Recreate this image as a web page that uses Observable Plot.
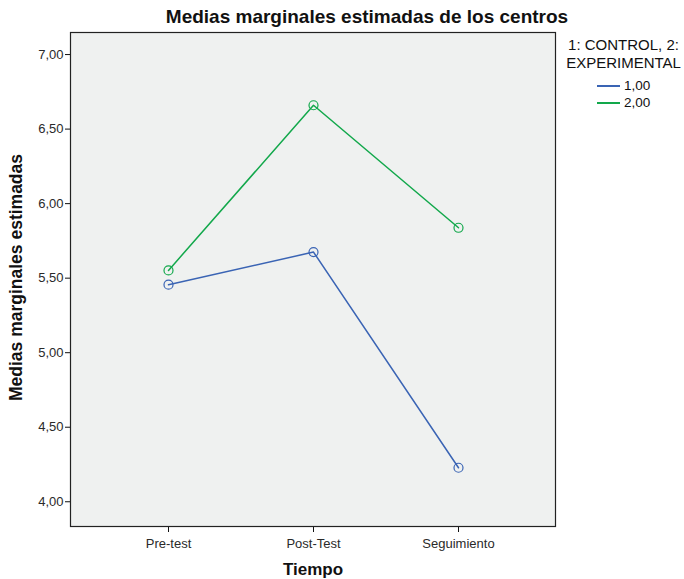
<!DOCTYPE html>
<html>
<head>
<meta charset="utf-8">
<script src="https://cdn.jsdelivr.net/npm/d3@7"></script>
<script src="https://cdn.jsdelivr.net/npm/@observablehq/plot@0.6"></script>
<style>
  body { margin: 0; background: #fff; font-family: "Liberation Sans", Arial, sans-serif; }
  #wrap { position: relative; width: 684px; height: 579px; }
  .leg { position: absolute; font-size: 15px; color: #111; }
</style>
</head>
<body>
<div id="wrap"></div>
<script>
const times = ["Pre-test", "Post-Test", "Seguimiento"];
const control = [5.456, 5.675, 4.228];
const experimental = [5.552, 6.66, 5.838];
const groups = ["1,00", "2,00"];
const colors = ["#3a64b4", "#12a84b"];
const yTicks = [4, 4.5, 5, 5.5, 6, 6.5, 7];
const title = "Medias marginales estimadas de los centros";
const yLabel = "Medias marginales estimadas";
const xLabel = "Tiempo";
const legendTitle = ["1: CONTROL, 2:", "EXPERIMENTAL"];

const rows = [];
times.forEach((t, i) => {
  rows.push({time: t, value: control[i], group: groups[0]});
  rows.push({time: t, value: experimental[i], group: groups[1]});
});

const fmt = d => d.toFixed(2).replace(".", ",");

const chart = Plot.plot({
  width: 684,
  height: 579,
  marginTop: 32,
  marginLeft: 70,
  marginRight: 129,
  marginBottom: 53,
  style: {fontFamily: "'Liberation Sans', Arial, sans-serif", fontSize: "13px", color: "#2a2a2a", background: "#fff"},
  x: {type: "point", domain: times, padding: 0.667},
  y: {domain: [3.834, 7.148]},
  color: {domain: groups, range: colors},
  marks: [
    Plot.frame({fill: "#eff1f0"}),
    Plot.axisY({ticks: yTicks, tickFormat: fmt, tickSize: 5, tickPadding: 2, label: null, fontSize: 13, stroke: "#111"}),
    Plot.axisX({tickSize: 6, tickPadding: 6, label: null, fontSize: 13, stroke: "#111"}),
    Plot.line(rows, {x: "time", y: "value", z: "group", stroke: "group", strokeWidth: 1.5}),
    Plot.dot(rows, {x: "time", y: "value", stroke: "group", r: 4.5, strokeWidth: 1.2, fill: "none"}),
    Plot.frame({stroke: "#222", strokeWidth: 1.2}),
    Plot.text([title], {frameAnchor: "top", dx: 54, dy: -16, text: d => d, fontSize: 19, fontWeight: "bold", fill: "#111", lineAnchor: "middle", textAnchor: "middle"}),
    Plot.text([yLabel], {frameAnchor: "left", dx: -54, dy: -2, text: d => d, rotate: -90, fontSize: 17.5, fontWeight: "bold", fill: "#111", textAnchor: "middle", lineAnchor: "middle"}),
    Plot.text([xLabel], {frameAnchor: "bottom", dy: 43, text: d => d, fontSize: 17, fontWeight: "bold", fill: "#111", lineAnchor: "middle", textAnchor: "middle", style: "letter-spacing:1px"})
  ]
});

const wrap = document.getElementById("wrap");
wrap.appendChild(chart);

// Legend
const t1 = document.createElement("div");
t1.className = "leg";
t1.style.left = "563px"; t1.style.top = "36px"; t1.style.width = "121px"; t1.style.textAlign = "center"; t1.style.lineHeight = "18px";
t1.innerHTML = legendTitle.join("<br>");
wrap.appendChild(t1);

groups.forEach((g, i) => {
  const item = document.createElement("div");
  item.className = "leg";
  item.style.left = "597px";
  item.style.top = (78 + i * 17) + "px";
  item.style.display = "flex";
  item.style.alignItems = "center";
  item.style.fontSize = "13.5px";
  item.innerHTML = `<span style="display:inline-block;width:23px;height:2px;background:${colors[i]};margin-right:4px"></span>${g}`;
  wrap.appendChild(item);
});
</script>
</body>
</html>
